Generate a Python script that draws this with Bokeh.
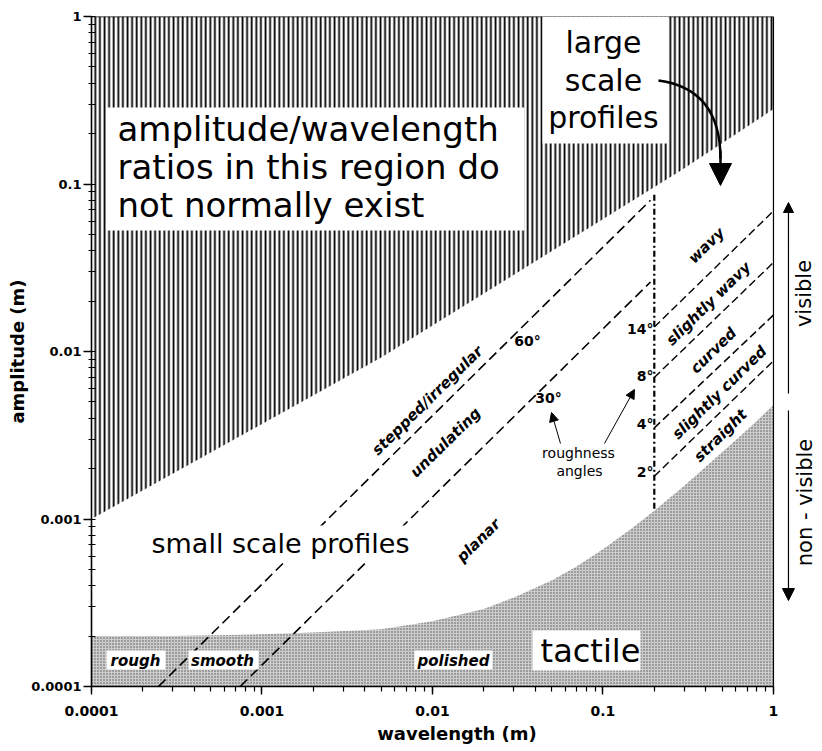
import math
from bokeh.plotting import figure
from bokeh.models import Label, Arrow, NormalHead, Range1d, CustomJSTickFormatter
from bokeh.embed import file_html
from bokeh.resources import INLINE

# ---------------- data ----------------
# upper limit of natural amplitude/wavelength ratios (hatched region lower edge)
hatch_wl = [1e-4, 0.005, 0.285, 1.0]
hatch_amp = [1e-3, 0.0092, 0.12, 0.28]

# upper edge of the tactile (stippled) region
tactile_wl = [1e-4, 3e-4, 1e-3, 2e-3, 5e-3, 0.01, 0.02, 0.03, 0.05, 0.07,
              0.1, 0.15, 0.2, 0.3, 0.5, 0.7, 1.0]
tactile_amp = [2.0e-4, 2.0e-4, 2.05e-4, 2.1e-4, 2.2e-4, 2.45e-4, 2.9e-4, 3.4e-4,
               4.3e-4, 5.2e-4, 6.6e-4, 8.9e-4, 1.12e-3, 1.58e-3, 2.5e-3, 3.4e-3, 4.8e-3]

# small scale roughness-angle lines (60 deg, 30 deg)
small_angles = ["60°", "30°"]
small_wl_start = [2.47e-4, 7.45e-4]
small_amp_start = [1e-4, 1e-4]
small_wl_end = [0.19, 0.19]
small_amp_end = [0.08, 0.026]

# large scale roughness-angle lines (14, 8, 4, 2 deg)
large_angles = ["14°", "8°", "4°", "2°"]
large_wl_start = [0.2, 0.2, 0.2, 0.2]
large_amp_start = [0.0140, 0.0070, 0.0035, 0.0018]
large_wl_end = [1.0, 1.0, 1.0, 1.0]
large_amp_end = [0.069, 0.034, 0.0165, 0.0088]

# small/large scale divide
divide_wl = [0.2, 0.2]
divide_amp = [1.15e-3, 0.09]

small_classes = ["stepped/irregular", "undulating", "planar"]
large_classes = ["wavy", "slightly wavy", "curved", "slightly curved", "straight"]
tactile_classes = ["rough", "smooth", "polished"]

# ---------------- figure ----------------
FONT = "DejaVu Sans"
p = figure(width=822, height=750, x_axis_type="log", y_axis_type="log",
           x_range=Range1d(1e-4, 1.939), y_range=Range1d(1e-4, 1.0),
           output_backend="svg", toolbar_location=None,
           min_border_left=91, min_border_right=0, min_border_top=16, min_border_bottom=64)
p.outline_line_color = None
p.xgrid.visible = False
p.ygrid.visible = False
p.background_fill_color = "white"

# helpers converting picture pixel positions of annotations into data coordinates
def X(px):
    return 10 ** ((px - 91) / 170.5 - 4)

def Y(py):
    return 10 ** (-(py - 16) / 167.5)

ANG = math.atan2(167.5, 170.5)

# regions
p.patch(hatch_wl + [1.0, 1e-4], hatch_amp + [1.0, 1.0], fill_color="white", line_color=None,
        hatch_pattern="vertical_line", hatch_scale=4.6, hatch_weight=1.8, hatch_color="black")
p.patch(tactile_wl + [1.0, 1e-4], tactile_amp + [1e-4, 1e-4], fill_color="#cccccc", line_color=None,
        hatch_pattern="dot", hatch_scale=3, hatch_weight=1, hatch_color="#555555")

# border of the domain
p.line([1e-4, 1.0], [1.0, 1.0], line_color="black", line_width=1.5)
p.line([1.0, 1.0], [1e-4, 1.0], line_color="black", line_width=1.2)

# angle lines
p.segment(x0=small_wl_start, y0=small_amp_start, x1=small_wl_end, y1=small_amp_end,
          line_color="black", line_width=1.6, line_dash="10 5")
p.segment(x0=large_wl_start, y0=large_amp_start, x1=large_wl_end, y1=large_amp_end,
          line_color="black", line_width=1.4, line_dash="8 4")
p.line(divide_wl, divide_amp, line_color="black", line_width=2.2, line_dash="6 3 2 3")

# white boxes behind texts
boxes = [(106, 524, 107, 230),   # amplitude/wavelength ...
         (542, 668, 16, 143),    # large scale profiles
         (145, 415, 525, 562),   # small scale profiles
         (106, 165, 650, 669),   # rough
         (188, 258, 650, 669),   # smooth
         (414, 492, 650, 669),   # polished
         (532, 640, 630, 670)]   # tactile
p.quad(left=[X(b[0]) for b in boxes], right=[X(b[1]) for b in boxes],
       top=[Y(b[2]) for b in boxes], bottom=[Y(b[3]) for b in boxes],
       fill_color="white", line_color=None)

# curved arrow from "large scale profiles"
p.bezier(x0=[X(658)], y0=[Y(80)], x1=[X(720)], y1=[Y(158)],
         cx0=[X(702)], cy0=[Y(86)], cx1=[X(720)], cy1=[Y(115)],
         line_color="black", line_width=2.5)
p.add_layout(Arrow(end=NormalHead(size=22, fill_color="black", line_color="black"),
                   x_start=X(720), y_start=Y(150), x_end=X(720), y_end=Y(185),
                   line_width=2.5, line_color="black"))

def lab(text, px, py, size, style="normal", angle=0.0, align="center"):
    p.add_layout(Label(x=X(px), y=Y(py), text=text, angle=angle, text_font=FONT,
                       text_font_size=f"{size}px", text_font_style=style,
                       text_align=align, text_baseline="middle", text_color="black"))

# big texts
lab("amplitude/wavelength", 117, 128, 34, align="left")
lab("ratios in this region do", 117, 166, 34, align="left")
lab("not normally exist", 117, 204, 34, align="left")
lab("large", 603, 42, 30)
lab("scale", 603, 80, 30)
lab("profiles", 603, 117, 30)
lab("small scale profiles", 280, 543, 27)
lab("tactile", 590, 650, 32)

# class labels
for t, (px, py) in zip(small_classes, [(427, 400), (445, 442), (478, 540)]):
    lab(t, px, py, 15, "bold italic", ANG)
for t, (px, py) in zip(large_classes, [(706, 245), (708, 303), (713, 350), (719, 392), (720, 435)]):
    lab(t, px, py, 15, "bold italic", ANG)
for t, (px, py) in zip(tactile_classes, [(135, 660), (222, 660), (453, 660)]):
    lab(t, px, py, 15, "bold italic")

# angle labels
for t, (px, py) in zip(small_angles, [(527, 340), (548, 397)]):
    lab(t, px, py, 14, "bold")
for t, py in zip(large_angles, [328, 375, 423, 471]):
    lab(t, 653, py, 14, "bold", align="right")

lab("roughness", 578, 452, 14)
lab("angles", 579, 470, 14)
for (x0, y0, x1, y1) in [(560, 443, 551, 412), (604, 443, 634, 389)]:
    p.add_layout(Arrow(end=NormalHead(size=9, fill_color="black", line_color="black"),
                       x_start=X(x0), y_start=Y(y0), x_end=X(x1), y_end=Y(y1),
                       line_width=1.0, line_color="black"))

# visible / non-visible
p.add_layout(Arrow(end=NormalHead(size=10, fill_color="black", line_color="black"),
                   x_start=X(788), y_start=Y(393), x_end=X(788), y_end=Y(202),
                   line_width=1.2, line_color="black"))
p.add_layout(Arrow(end=NormalHead(size=12, fill_color="black", line_color="black"),
                   x_start=X(788), y_start=Y(410), x_end=X(788), y_end=Y(600),
                   line_width=1.2, line_color="black"))
lab("visible", 804, 293, 21, angle=math.pi / 2)
lab("non - visible", 805, 502, 21, angle=math.pi / 2)

# axes
fmt = CustomJSTickFormatter(code="return Number(tick.toPrecision(1)).toString();")
for ax in (p.xaxis[0], p.yaxis[0]):
    ax.formatter = fmt
    ax.axis_line_width = 1.6
    ax.major_tick_line_width = 1.4
    ax.minor_tick_line_width = 1.2
    ax.major_label_text_font = FONT
    ax.major_label_text_font_style = "bold"
    ax.axis_label_text_font = FONT
    ax.axis_label_text_font_style = "bold"
    ax.axis_label_text_font_size = "18px"
    ax.axis_line_color = "black"
    ax.major_tick_line_color = "black"
    ax.minor_tick_line_color = "black"
    ax.major_label_text_color = "black"
    ax.axis_label_text_color = "black"

p.xaxis.axis_label = "wavelength (m)"
p.xaxis.bounds = (1e-4, 1.0)
p.xaxis.major_label_text_font_size = "14px"
p.xaxis.major_tick_out = 8
p.xaxis.major_tick_in = 0
p.xaxis.minor_tick_out = 5
p.xaxis.minor_tick_in = 0
p.xaxis.major_label_standoff = 11
p.xaxis.axis_label_standoff = 4

p.yaxis.axis_label = "amplitude (m)"
p.yaxis.major_label_text_font_size = "13px"
p.yaxis.major_tick_out = 8
p.yaxis.major_tick_in = 0
p.yaxis.minor_tick_out = 3
p.yaxis.minor_tick_in = 4
p.yaxis.major_label_standoff = 2
p.yaxis.axis_label_standoff = 0

open("out.html", "w").write(file_html(p, INLINE))
